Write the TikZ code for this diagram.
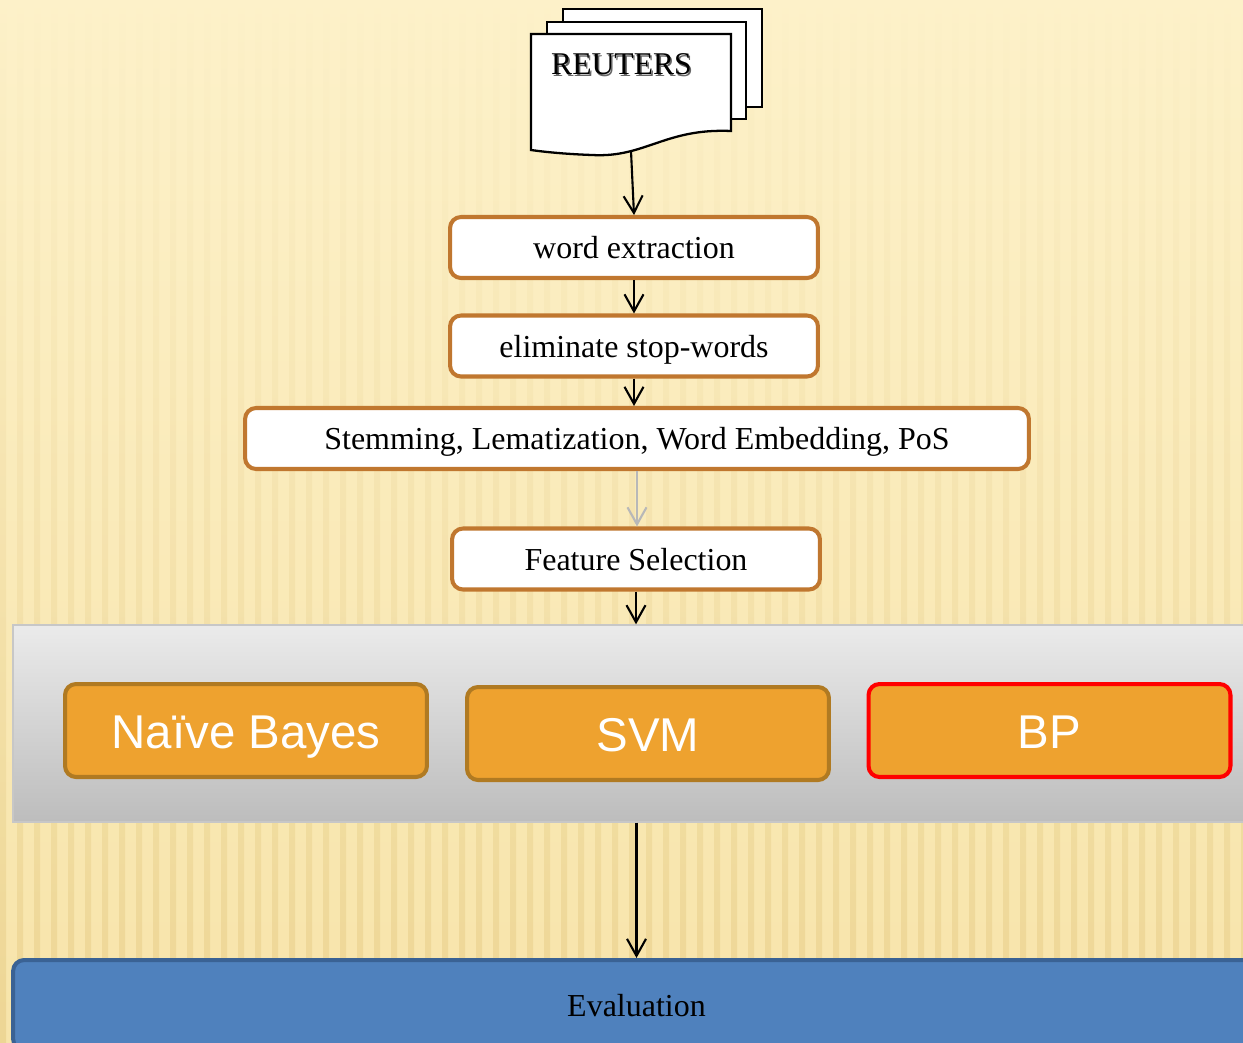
\documentclass[tikz,border=0pt]{standalone}
\usepackage{fontspec}
\setmainfont{Liberation Serif}
\newfontfamily\clsfont{Liberation Sans}
\usetikzlibrary{arrows.meta}

\definecolor{paper}{HTML}{FDF1C9}
\definecolor{paperlow}{HTML}{F7E4AA}
\definecolor{stripe}{HTML}{E6CB83}
\definecolor{boxedge}{HTML}{C0772F}
\definecolor{clsfill}{HTML}{EEA22F}
\definecolor{clsedge}{HTML}{B07A22}
\definecolor{evalfill}{HTML}{4F81BD}
\definecolor{evaledge}{HTML}{3A6294}

\begin{document}
\begin{tikzpicture}[x=0.02cm,y=-0.02cm,
  stepbox/.style={draw=boxedge,line width=2.3pt,fill=white,rounded corners=0.22cm,
    minimum width=7.36cm,minimum height=1.22cm,inner sep=0pt,font=\fontsize{18.2}{20}\selectfont,
    text height=13.7pt,text depth=0.9pt},
  clsbox/.style={draw=clsedge,line width=2.3pt,fill=clsfill,rounded corners=0.22cm,
    minimum width=7.24cm,minimum height=1.86cm,inner sep=0pt,text=white,font=\clsfont\fontsize{27}{29}\selectfont,
    text height=21.6pt,text depth=1.2pt},
  flow/.style={-{Straight Barb[length=0.34cm,width=0.38cm]},line width=1.2pt}]

\useasboundingbox (0,0) rectangle (1243,1042);
\clip (0,0) rectangle (1243,1042);
\shade[top color=paper,bottom color=paperlow] (0,0) rectangle (1243,1042);
\foreach \x in {0,17,...,1243}
  \shade[top color=paper,bottom color=stripe,opacity=0.55] (\x,0) rectangle ++(6,1042);

% stack of documents
\filldraw[fill=white,line width=1.3pt] (563,9) rectangle (762,107);
\filldraw[fill=white,line width=1.3pt] (547,22) rectangle (746,119);
\filldraw[fill=white,line width=1.3pt] (531,34) -- (731,34) -- (731,131)
  .. controls (665,128) and (645,158) .. (592,155)
  .. controls (565,154) and (545,152) .. (531,150) -- cycle;
\node[gray!80!black,font=\fontsize{18}{20}\selectfont] at (623,66) {REUTERS};
\node[font=\fontsize{18}{20}\selectfont] (reuters) at (621.5,64.5) {REUTERS};
\coordinate (docbot) at (631,151);

\node[stepbox] (word) at (634,247.5) {word extraction};
\node[stepbox] (elim) at (634,346) {eliminate stop-words};
\node[stepbox,minimum width=15.68cm] (stem) at (637,438.5) {Stemming, Lematization, Word Embedding, PoS};
\node[stepbox] (feat) at (636,559) {Feature Selection};

\node[draw=white!78!black,line width=0.8pt,top color=white!92!black,bottom color=white!74!black,
  minimum width=24.94cm,minimum height=3.94cm,inner sep=0pt] (models) at (636.5,723.5) {};
\node[clsbox] (nb) at (246,730.5) {Naïve Bayes};
\node[clsbox] (svm) at (648,733.5) {SVM};
\node[clsbox,draw=red] (bp) at (1049.5,730.5) {BP};

\node[stepbox,draw=evaledge,fill=evalfill,minimum width=24.94cm,minimum height=1.8cm] (eval) at (636.5,1005) {Evaluation};

\draw[flow] (docbot) -- (word.north);
\draw[flow] (word) -- (elim);
\draw[flow] (elim.south) -- (elim.south |- stem.north);
\draw[flow,white!72!black] (stem.south) -- (stem.south |- feat.north);
\draw[flow] (feat.south) -- (feat.south |- models.north);
\draw[flow] (models.south) -- (eval.north);
\end{tikzpicture}
\end{document}
